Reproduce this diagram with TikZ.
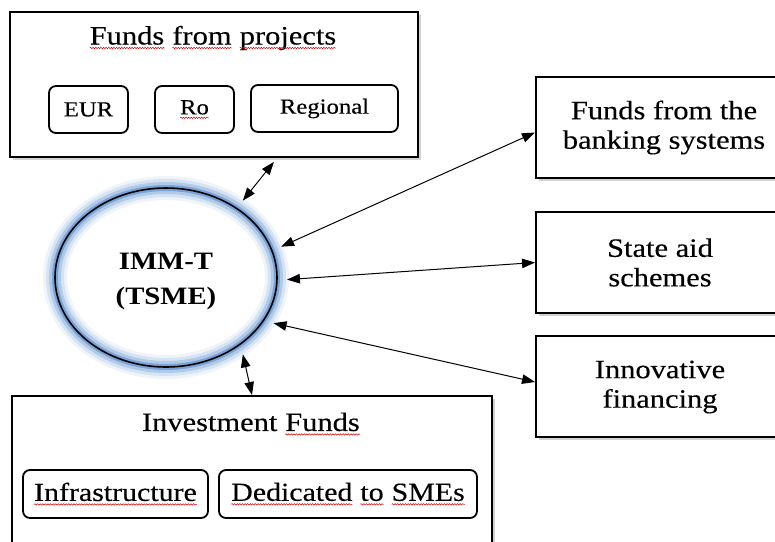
\documentclass[tikz,border=0pt]{standalone}
\usepackage{fontspec}
\setmainfont{Liberation Serif}[FakeStretch=1.15, UprightFeatures={FakeBold=0.3}]
\usetikzlibrary{arrows.meta,shapes.geometric,shadows,decorations.pathmorphing}
\definecolor{glow}{RGB}{50,115,195}
\newcommand\redwave[1]{\tikz[baseline=(w.base)]{\node[inner sep=0pt,outer sep=0pt,font=] (w) {#1};
  \draw[red!85!black, line width=0.5pt, decorate, decoration={snake, amplitude=0.7pt, segment length=2.6pt}]
    ([yshift=-3.5pt]w.base west) -- ([yshift=-3.5pt]w.base east);}}
\tikzset{
  bigbox/.style={draw, line width=2pt, fill=white, inner sep=0pt,
    drop shadow={opacity=0.35, shadow xshift=3pt, shadow yshift=-3pt}},
  subbox/.style={draw, line width=1.8pt, rounded corners=7pt, fill=white, inner sep=0pt},
  titletext/.style={font=\fontsize{26.5}{30}\selectfont},
  subtext/.style={font=\fontsize{21.5}{25}\selectfont},
  rtext/.style={align=center, font=\fontsize{26.5}{29.5}\selectfont},
  link/.style={line width=1pt, {Triangle[length=13pt,width=9.5pt]}-{Triangle[length=13pt,width=9.5pt]}}
}
\begin{document}
\begin{tikzpicture}[x=1pt,y=-1pt]
\path[use as bounding box] (0,0) rectangle (775,541);
\clip (0,0) rectangle (775,541);
\fill[white] (0,0) rectangle (775,541);

% top box
\node[bigbox, minimum width=408pt, minimum height=145pt] (top) at (214,84.5) {};
\node[titletext] (toptitle) at (213,38) {\redwave{Funds} \redwave{from} \redwave{projects}};
\node[subbox, minimum width=79pt, minimum height=47pt] (eur) at (88.5,109.5) {};
\node[subtext] (eurt) at (eur) {EUR};
\node[subbox, minimum width=79pt, minimum height=47pt] (ro) at (194.5,109.5) {};
\node[subtext] (rot) at (ro) {\redwave{Ro}};
\node[subbox, minimum width=147pt, minimum height=47pt] (reg) at (324.5,108.5) {};
\node[subtext] (regt) at (reg) {Regional};

% bottom box
\node[bigbox, minimum width=480pt, minimum height=170pt] (bot) at (252,481) {};
\node[titletext] (bottitle) at (251,424) {Investment \redwave{Funds}};
\node[subbox, minimum width=185pt, minimum height=48pt] (infra) at (115.5,494) {};
\node[titletext, font=\fontsize{26}{29}\selectfont] (infrat) at (infra) {\redwave{Infrastructure}};
\node[subbox, minimum width=258pt, minimum height=48pt] (ded) at (348,494) {};
\node[titletext, font=\fontsize{26}{29}\selectfont] (dedt) at (ded) {\redwave{Dedicated} \redwave{to} \redwave{SMEs}};

% right boxes
\node[bigbox, minimum width=264pt, minimum height=101pt] (b1) at (668,127.5) {};
\node[rtext] (b1t) at (664,127.5) {Funds from the\\banking systems};
\node[bigbox, minimum width=264pt, minimum height=101pt] (b2) at (668,262.5) {};
\node[rtext] (b2t) at (660,262.5) {State aid\\schemes};
\node[bigbox, minimum width=264pt, minimum height=101pt] (b3) at (668,386.5) {};
\node[rtext] (b3t) at (660,387) {Innovative\\financing};

% ellipse glow
\draw[line width=24pt, glow!8] (166,277.5) ellipse [x radius=111, y radius=89.5];
\draw[line width=18pt, glow!20] (166,277.5) ellipse [x radius=111, y radius=89.5];
\draw[line width=12pt, glow!38] (166,277.5) ellipse [x radius=111, y radius=89.5];
\draw[line width=6pt, glow!65] (166,277.5) ellipse [x radius=111, y radius=89.5];
\node[ellipse, draw, line width=1.6pt, minimum width=222pt, minimum height=179pt,
      inner sep=0pt, outer sep=10pt] (ell) at (166,277.5) {};
\node[align=center, font=\bfseries\fontsize{25}{35}\selectfont] (ellt) at (166,281.5) {IMM-T\\(TSME)};

% connectors
\draw[link, shorten >=5pt] (ell.45) -- ([xshift=63pt]top.south);
\draw[link] (ell.15) -- ([yshift=-5pt]b1.west);
\draw[link] (ell.-1) -- (b2.west);
\draw[link] (ell.-23) -- ([yshift=4.5pt]b3.west);
\draw[link] (ell.-45) -- (bot.north);
\end{tikzpicture}
\end{document}
